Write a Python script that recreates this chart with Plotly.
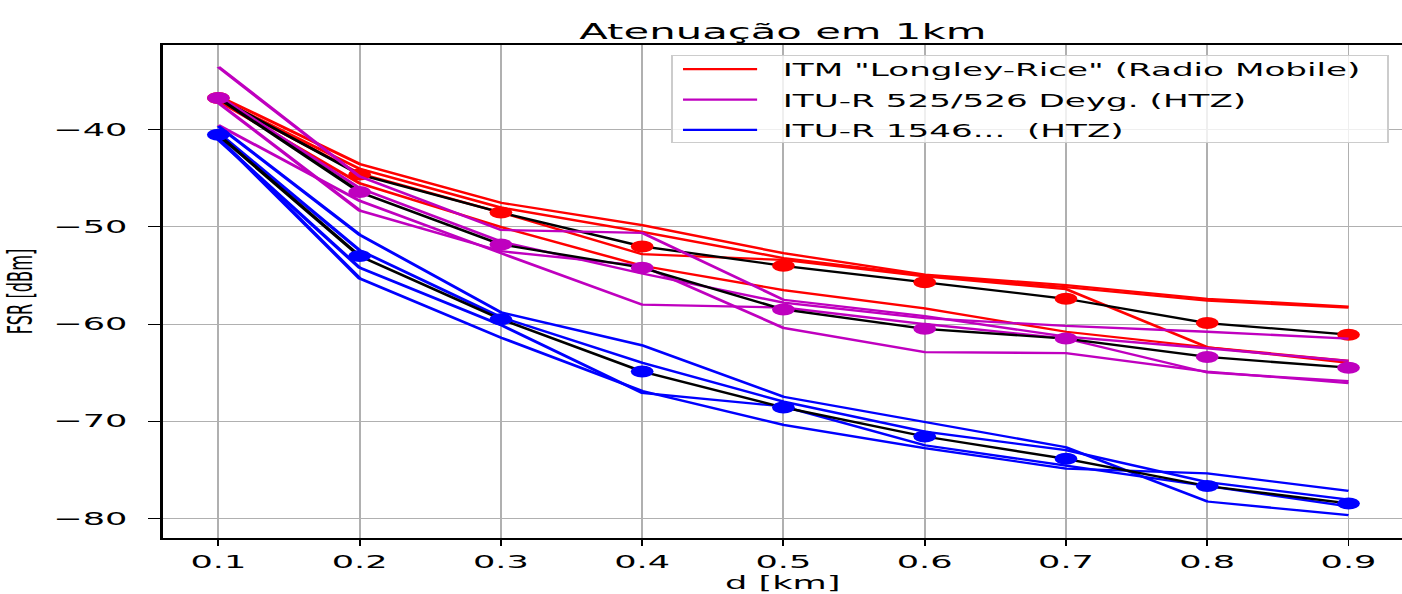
import plotly.graph_objects as go

# distances (km)
d_km = [0.1, 0.2, 0.3, 0.4, 0.5, 0.6, 0.7, 0.8, 0.9]

# ITM "Longley-Rice" (Radio Mobile) runs  [dBm]
itm_a = [-36.5, -43.5, -47.5, -49.8, -52.7, -54.9, -56.0, -57.4, -58.2]
itm_b = [-36.8, -44.0, -48.0, -50.5, -53.2, -55.0, -56.2, -57.6, -58.3]
itm_c = [-36.8, -44.5, -48.5, -52.8, -53.4, -55.1, -56.4, -62.4, -63.8]
itm_d = [-37.0, -45.5, -50.0, -54.0, -56.5, -58.4, -60.8, -62.4, -64.0]
itm_mean = [-36.7, -44.6, -48.5, -52.0, -54.0, -55.7, -57.4, -59.9, -61.1]

# ITU-R 525/526 Deyg. (HTZ) runs
dey_a = [-33.5, -44.8, -50.3, -50.6, -57.5, -59.2, -61.3, -62.5, -63.8]
dey_b = [-36.5, -46.0, -51.5, -54.8, -57.8, -59.4, -60.2, -60.8, -61.5]
dey_c = [-39.5, -47.3, -52.7, -58.0, -58.3, -60.0, -61.5, -65.0, -65.9]
dey_d = [-37.2, -48.3, -52.5, -54.0, -60.4, -62.9, -63.0, -64.9, -66.1]
dey_mean = [-36.7, -46.4, -51.8, -54.2, -58.5, -60.5, -61.5, -63.4, -64.5]

# ITU-R 1546 (HTZ) runs
itu_a = [-39.6, -50.8, -58.8, -62.2, -67.5, -70.1, -72.7, -78.3, -79.7]
itu_b = [-40.3, -52.4, -59.3, -64.0, -68.0, -71.1, -73.0, -76.3, -78.1]
itu_c = [-41.0, -54.2, -60.1, -67.1, -68.5, -72.5, -74.6, -76.7, -78.8]
itu_d = [-40.8, -55.3, -61.4, -66.9, -70.4, -72.8, -74.9, -75.4, -77.2]
itu_mean = [-40.5, -53.0, -59.5, -64.9, -68.6, -71.6, -73.9, -76.7, -78.5]

groups = [
    ('ITM "Longley-Rice" (Radio Mobile)', "#ff0000", [itm_a, itm_b, itm_c, itm_d], itm_mean),
    ("ITU-R 525/526 Deyg. (HTZ)", "#bf00bf", [dey_a, dey_b, dey_c, dey_d], dey_mean),
    ("ITU-R 1546...  (HTZ)", "#0000ff", [itu_a, itu_b, itu_c, itu_d], itu_mean),
]

# The reference image is a matplotlib figure stretched horizontally (~1.9x).
# We draw the figure at its natural width and stretch the page element.
STRETCH = 1.9
W = 738  # 738 * 1.9 ~= 1402

FONT = "DejaVu Sans"
fig = go.Figure()
for gi, (name, color, runs, mean) in enumerate(groups):
    for i, run in enumerate(runs):
        fig.add_trace(go.Scatter(
            x=d_km, y=run, mode="lines", name=name,
            legendgroup=f"g{gi}", showlegend=(i == 0),
            line=dict(color=color, width=2.3),
        ))
    fig.add_trace(go.Scatter(
        x=d_km, y=mean, mode="lines+markers", showlegend=False,
        line=dict(color="black", width=2.3),
        marker=dict(color=color, size=12, line=dict(width=0)),
    ))

axis_common = dict(
    showgrid=True, gridcolor="#b0b0b0", gridwidth=1.4,
    showline=True, linecolor="black", linewidth=1.5,
    ticks="outside", tickcolor="black", tickwidth=1.4, ticklen=6.5,
    zeroline=False, automargin=False,
    tickfont=dict(family=FONT, size=18.5, color="black"),
)

fig.update_layout(
    width=W, height=594,
    margin=dict(l=86, r=0, t=45, b=56),
    paper_bgcolor="white", plot_bgcolor="white",
    title=dict(text="Atenuação em 1km", x=0.5, xref="paper", xanchor="center",
               y=0.948, yref="container", yanchor="middle",
               font=dict(family=FONT, size=22, color="black")),
    xaxis=dict(range=[0.0611, 0.938], tickmode="array", tickvals=d_km,
               ticktext=[f"{v:.1f}" for v in d_km], mirror=True,
               title=dict(text="d [km]", standoff=2,
                          font=dict(family=FONT, size=18.5, color="black")),
               **axis_common),
    yaxis=dict(range=[-82.06, -31.24], tickvals=[-80, -70, -60, -50, -40],
               ticklabelstandoff=7,
               title=dict(text="FSR [dBm]", standoff=8,
                          font=dict(family="DejaVu Sans Condensed, Liberation Sans Narrow, DejaVu Sans",
                                    size=18, color="black")),
               **axis_common),
    legend=dict(x=0.9877, y=0.99, xanchor="right", yanchor="top",
                bgcolor="rgba(255,255,255,0.8)", bordercolor="#cccccc", borderwidth=1,
                font=dict(family=FONT, size=18, color="black"),
                tracegroupgap=4),
    showlegend=True,
)

# Page set-up: no body margin, stretch the figure horizontally like the reference,
# and give the legend frame matplotlib-like padding (no clipping of its labels).
post_js = """
var gd = document.getElementById('{plot_id}');
document.documentElement.style.margin = '0';
document.body.style.margin = '0';
document.documentElement.style.overflow = 'hidden';
document.body.style.overflow = 'hidden';
gd.style.transformOrigin = '0 0';
gd.style.transform = 'scaleX(%s)';
try {
  var lg = gd.querySelector('g.legend');
  if (lg) {
    var sb = lg.querySelector('.scrollbox');
    if (sb) sb.removeAttribute('clip-path');
    var m = /translate\\(([-\\d.]+)[ ,]+([-\\d.]+)\\)/.exec(lg.getAttribute('transform') || '');
    if (m) {
      lg.setAttribute('transform', 'translate(' + (parseFloat(m[1]) - 7) + ',' + m[2] + ')');
    }
    var bg = lg.querySelector('rect.bg');
    if (bg) {
      var bx = parseFloat(bg.getAttribute('x') || 0);
      var by = parseFloat(bg.getAttribute('y') || 0);
      var bwid = parseFloat(bg.getAttribute('width'));
      var bh = parseFloat(bg.getAttribute('height'));
      bg.setAttribute('x', bx - 18);
      bg.setAttribute('width', bwid + 26);
      bg.setAttribute('y', by + 5);
      bg.setAttribute('height', bh - 12);
    }
    lg.querySelectorAll('g.legendlines path').forEach(function(p) {
      p.setAttribute('d', 'M-12.5,0h39');
    });
  }
} catch (e) {}
""" % STRETCH

fig.write_html("out.html", post_script=post_js,
               config={"displayModeBar": False})
